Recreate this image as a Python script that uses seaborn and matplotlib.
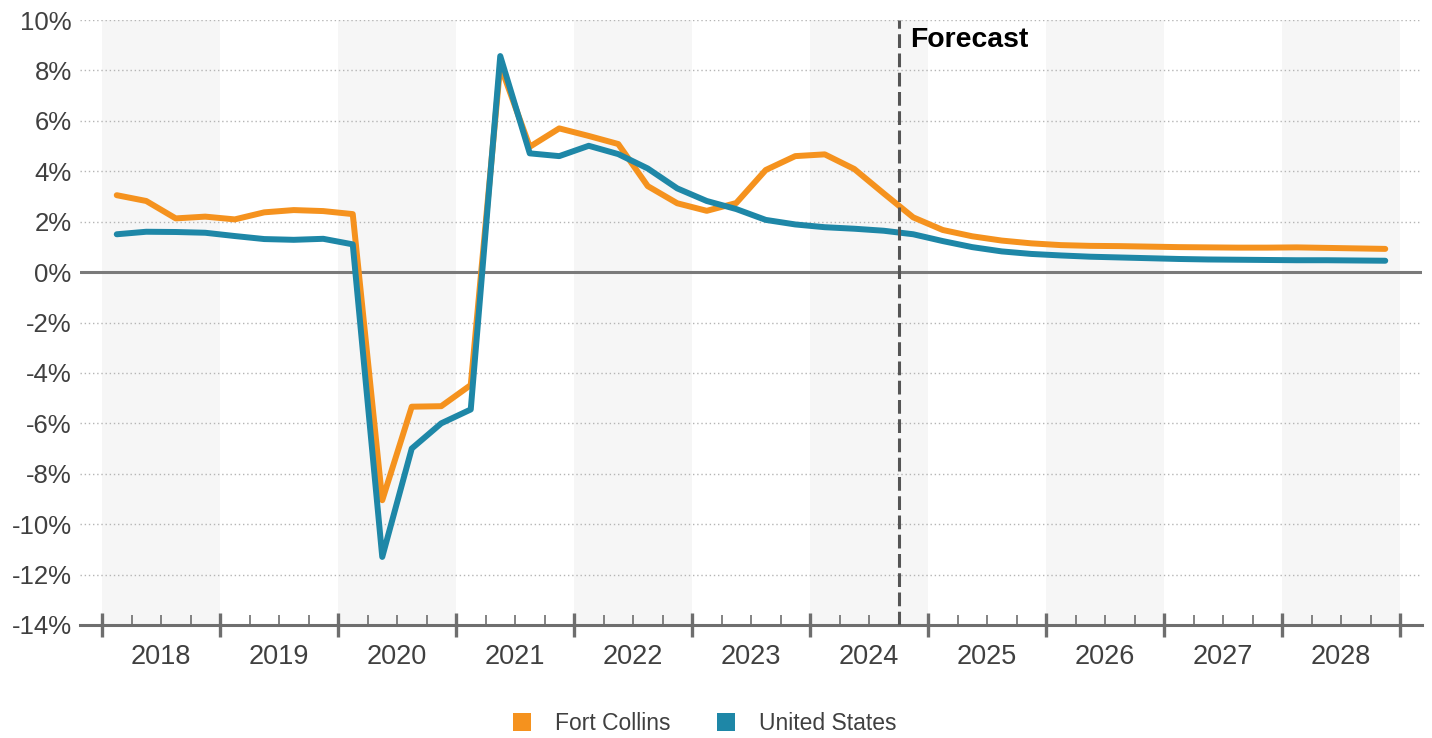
import numpy as np
import pandas as pd
import matplotlib
matplotlib.use("Agg")
import matplotlib.pyplot as plt
from matplotlib.lines import Line2D
import seaborn as sns

# Quarterly year-over-year growth, 2018Q1 - 2028Q4
years = list(range(2018, 2029))
fort_collins = [
    3.05, 2.82, 2.13, 2.20,
    2.09, 2.37, 2.46, 2.42,
    2.30, -9.05, -5.34, -5.32,
    -4.48, 8.20, 4.97, 5.70,
    5.40, 5.08, 3.41, 2.73,
    2.43, 2.74, 4.05, 4.60,
    4.67, 4.09, 3.12, 2.17,
    1.67, 1.42, 1.25, 1.14,
    1.07, 1.04, 1.03, 1.01,
    0.99, 0.98, 0.97, 0.97,
    0.98, 0.96, 0.94, 0.92,
]
united_states = [
    1.50, 1.60, 1.59, 1.56,
    1.43, 1.31, 1.28, 1.32,
    1.10, -11.30, -7.00, -6.00,
    -5.45, 8.57, 4.71, 4.60,
    5.01, 4.68, 4.11, 3.32,
    2.82, 2.50, 2.07, 1.89,
    1.78, 1.72, 1.64, 1.50,
    1.23, 0.99, 0.82, 0.72,
    0.66, 0.61, 0.58, 0.55,
    0.52, 0.50, 0.49, 0.48,
    0.47, 0.47, 0.46, 0.45,
]
series_names = ["Fort Collins", "United States"]
y_ticks = list(range(-14, 11, 2))
forecast_start = 2024.75

ORANGE = "#F5921E"
BLUE = "#1E87A7"
AXIS_GRAY = "#6E6E6E"
TEXT_GRAY = "#404040"

# quarter midpoints in decimal years
quarters = [y + (q + 0.5) / 4 for y in years for q in range(4)]
df = pd.DataFrame({
    "t": quarters * 2,
    "value": fort_collins + united_states,
    "series": [series_names[0]] * len(fort_collins) + [series_names[1]] * len(united_states),
})

sns.set_style("white")
plt.rcParams["font.family"] = ["Liberation Sans", "DejaVu Sans"]

fig = plt.figure(figsize=(14.32, 7.38), dpi=100)
ax = fig.add_axes([80 / 1432, 1 - 625 / 738, 1342 / 1432, 605 / 738])

x_left = years[0] - 22 / 118
x_right = years[-1] + 1 + 22 / 118
ax.set_xlim(x_left, x_right)
ax.set_ylim(y_ticks[0], y_ticks[-1])

# alternating year shading
for y in years[::2]:
    ax.axvspan(y, y + 1, color="#F6F6F6", zorder=0, lw=0)

# dotted grid
for v in y_ticks:
    if v in (0, y_ticks[0]):
        continue
    ax.axhline(v, color="#B5B5B5", lw=1.0, ls=(0, (1, 2)), zorder=1)
ax.axhline(0, color="#7A7A7A", lw=2.2, zorder=2)

sns.lineplot(
    data=df, x="t", y="value", hue="series", hue_order=series_names,
    palette={series_names[0]: ORANGE, series_names[1]: BLUE},
    lw=4.3, legend=False, sort=False, ax=ax, zorder=4,
    solid_capstyle="round", solid_joinstyle="round",
)

# forecast divider
ax.axvline(forecast_start, color="#555555", lw=2.2, ls=(0, (4.5, 1.8)), zorder=5)
ax.text(forecast_start + 12 / 118, 8.93, "Forecast", fontsize=20.4,
        fontweight="bold", color="black", va="baseline", ha="left", zorder=6)

# axes styling
for s in ("top", "right", "left"):
    ax.spines[s].set_visible(False)
ax.spines["bottom"].set_color(AXIS_GRAY)
ax.spines["bottom"].set_linewidth(2.2)
ax.spines["bottom"].set_zorder(3)

ax.set_yticks(y_ticks)
ax.set_yticklabels([f"{v}%" for v in y_ticks])
ax.tick_params(axis="y", length=0, pad=6, labelsize=18.5, labelcolor=TEXT_GRAY)

year_edges = years + [years[-1] + 1]
quarter_edges = [y + q / 4 for y in years for q in (1, 2, 3)]
ax.set_xticks(year_edges)
ax.set_xticks(quarter_edges, minor=True)
ax.set_xticklabels([])
ax.tick_params(axis="x", which="major", direction="inout", length=17.3,
               width=2.4, color=AXIS_GRAY, bottom=True)
ax.tick_params(axis="x", which="minor", direction="in", length=7.2,
               width=1.2, color=AXIS_GRAY, bottom=True)
ax.set_xlabel("")
ax.set_ylabel("")

# year labels centred in each year band
sec = ax.secondary_xaxis("bottom")
sec.set_xticks([y + 0.5 for y in years])
sec.set_xticklabels([str(y) for y in years])
sec.tick_params(axis="x", length=0, pad=14, labelsize=19.5, labelcolor=TEXT_GRAY)
sec.spines["bottom"].set_visible(False)

# legend
handles = [
    Line2D([], [], marker="s", ls="none", markersize=13, color=c, markeredgewidth=0)
    for c in (ORANGE, BLUE)
]
fig.legend(handles, series_names, loc="center", ncol=2,
           bbox_to_anchor=(703.5 / 1432, 14 / 738), frameon=False,
           fontsize=16.5, labelcolor=TEXT_GRAY, handlelength=1.0,
           handletextpad=0.95, columnspacing=1.9, borderpad=0)

fig.savefig("out.png", dpi=100, facecolor="white")
